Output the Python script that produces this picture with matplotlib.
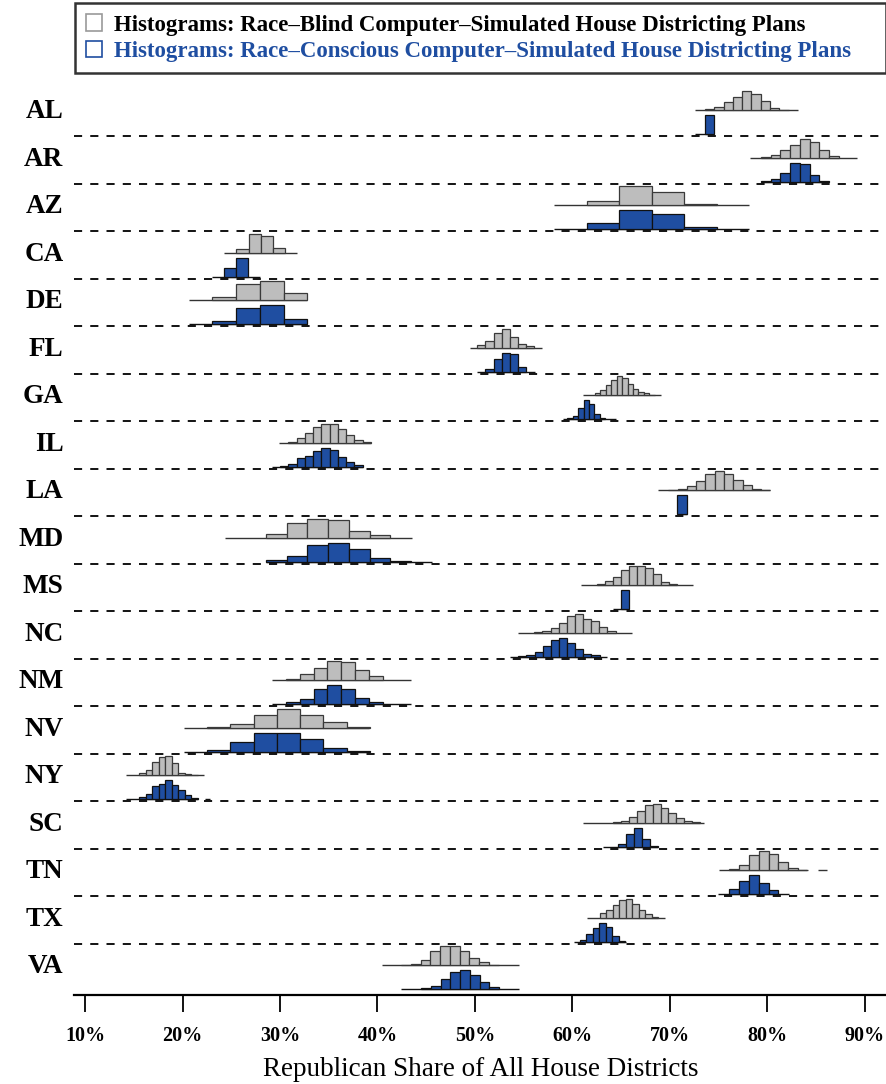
import matplotlib
matplotlib.use("Agg")
import matplotlib.pyplot as plt
from matplotlib.patches import Patch

# state rows, top to bottom
states = ["AL", "AR", "AZ", "CA", "DE", "FL", "GA", "IL", "LA", "MD",
          "MS", "NC", "NM", "NV", "NY", "SC", "TN", "TX", "VA"]
# number of house districts -> bin width = 100 / n
n_districts = [105, 100, 30, 80, 41, 120, 180, 118, 105, 47,
               122, 120, 70, 42, 150, 124, 99, 150, 100]

# race-blind histograms (left edge of first bin, relative bar heights, line span)
gray_left = [73.59, 79.33, 61.46, 25.52, 23.06, 50.24, 62.31, 30.85, 69.83, 28.56,
             62.54, 56.08, 30.58, 22.54, 15.57, 64.20, 76.08, 62.82, 42.43]
gray_heights = [
    [0.05, 0.18, 0.42, 0.73, 1.0, 0.84, 0.47, 0.15, 0.04],
    [0.03, 0.16, 0.40, 0.66, 1.0, 0.81, 0.41, 0.10],
    [0.24, 1.0, 0.69, 0.09],
    [0.18, 1.0, 0.91, 0.24],
    [0.16, 0.86, 1.0, 0.37],
    [0.14, 0.38, 0.79, 1.0, 0.58, 0.19, 0.09],
    [0.10, 0.30, 0.54, 0.80, 1.0, 0.90, 0.59, 0.36, 0.20, 0.10, 0.03],
    [0.05, 0.26, 0.53, 0.82, 1.0, 1.0, 0.75, 0.42, 0.15, 0.04],
    [0.04, 0.09, 0.22, 0.48, 0.84, 1.0, 0.87, 0.53, 0.27, 0.09, 0.03],
    [0.22, 0.78, 1.0, 0.95, 0.38, 0.16],
    [0.07, 0.23, 0.43, 0.79, 1.0, 1.0, 0.89, 0.61, 0.20, 0.09],
    [0.05, 0.12, 0.28, 0.52, 0.86, 1.0, 0.75, 0.61, 0.30, 0.09],
    [0.09, 0.35, 0.66, 1.0, 0.95, 0.57, 0.21],
    [0.03, 0.22, 0.66, 1.0, 0.69, 0.29, 0.02],
    [0.11, 0.30, 0.68, 0.96, 1.0, 0.64, 0.14, 0.05, 0.02],
    [0.04, 0.12, 0.30, 0.60, 0.92, 1.0, 0.80, 0.50, 0.25, 0.10, 0.04],
    [0.09, 0.30, 0.79, 1.0, 0.86, 0.44, 0.14, 0.04],
    [0.23, 0.40, 0.70, 0.96, 1.0, 0.74, 0.39, 0.19, 0.04],
    [0.03, 0.09, 0.26, 0.74, 1.0, 1.0, 0.77, 0.39, 0.18, 0.04],
]
gray_span = [
    [(72.56, 83.13)], [(78.2, 89.2)], [(58.1, 78.1)], [(24.3, 31.7)], [(20.67, 32.8)],
    [(49.49, 56.84)], [(61.1, 69.04)], [(29.93, 39.3)], [(68.8, 80.3)], [(24.36, 43.5)],
    [(60.84, 72.33)], [(54.44, 66.07)], [(29.14, 43.4)], [(20.18, 39.15)], [(14.2, 22.2)],
    [(61.1, 73.5)], [(75.05, 84.05), (85.2, 86.1)], [(61.45, 69.5)], [(40.46, 54.5)],
]

# race-conscious histograms
blue_left = [73.59, 79.33, 61.46, 24.23, 23.06, 51.07, 59.47, 30.00, 70.75, 28.56,
             64.94, 54.44, 30.58, 22.54, 15.57, 64.70, 76.08, 60.77, 44.47]
blue_heights = [
    [1.0],
    [0.03, 0.17, 0.48, 1.0, 0.95, 0.34, 0.04],
    [0.31, 1.0, 0.79, 0.12],
    [0.46, 1.0],
    [0.18, 0.84, 1.0, 0.26],
    [0.13, 0.67, 1.0, 0.95, 0.24],
    [0.05, 0.20, 0.59, 1.0, 0.80, 0.29, 0.09],
    [0.07, 0.14, 0.44, 0.59, 0.81, 1.0, 0.86, 0.54, 0.25, 0.11],
    [1.0],
    [0.11, 0.30, 0.86, 1.0, 0.65, 0.21, 0.05],
    [1.0],
    [0.05, 0.12, 0.24, 0.59, 0.87, 1.0, 0.74, 0.40, 0.14, 0.07],
    [0.11, 0.26, 0.83, 1.0, 0.83, 0.32, 0.14],
    [0.12, 0.51, 1.0, 1.0, 0.68, 0.21, 0.04],
    [0.14, 0.30, 0.68, 0.79, 1.0, 0.75, 0.49, 0.21, 0.05],
    [0.14, 0.66, 1.0, 0.43, 0.04],
    [0.27, 0.71, 1.0, 0.61, 0.23],
    [0.09, 0.40, 0.73, 1.0, 0.77, 0.31, 0.05],
    [0.05, 0.16, 0.52, 0.93, 1.0, 0.77, 0.39, 0.12],
]
blue_span = [
    [(72.56, 74.56)], [(79.33, 86.3)], [(58.1, 78.1)], [(23.06, 27.98)], [(20.67, 32.8)],
    [(50.17, 56.15)], [(59.0, 64.5)], [(29.15, 38.55)], [(70.75, 71.7)], [(28.56, 45.55)],
    [(64.12, 65.82)], [(53.59, 63.5)], [(29.14, 43.4)], [(20.18, 39.15)], [(14.2, 21.6), (22.3, 22.8)],
    [(63.13, 68.77)], [(74.95, 82.2)], [(60.15, 65.5)], [(42.43, 54.5)],
]

xticks = [10, 20, 30, 40, 50, 60, 70, 80, 90]
legend_labels = ["Histograms: Race\u2013Blind Computer\u2013Simulated House Districting Plans",
                 "Histograms: Race\u2013Conscious Computer\u2013Simulated House Districting Plans"]

GRAY = "#bdbdbd"
BLUE = "#1f4ea1"
SERIF = ["Liberation Serif", "DejaVu Serif"]

fig = plt.figure(figsize=(8.87, 10.84), dpi=100)
ax = fig.add_axes([74 / 887, 89 / 1084, 813 / 887, 906 / 1084])

n = len(states)
max_h = 0.40
for i, st in enumerate(states):
    row = n - 1 - i
    w = 100.0 / n_districts[i]
    g_base = row + 0.55
    b_base = row + 0.045

    for a, b in gray_span[i]:
        ax.hlines(g_base, a, b, color="#333333", lw=1.0, zorder=2)
    gx = [gray_left[i] + k * w for k in range(len(gray_heights[i]))]
    ax.bar(gx, [h * max_h for h in gray_heights[i]], width=w, bottom=g_base,
           align="edge", color=GRAY, edgecolor="#3a3a3a", linewidth=0.9, zorder=3)

    for a, b in blue_span[i]:
        ax.hlines(b_base, a, b, color="#111111", lw=1.0, zorder=2)
    bx = [blue_left[i] + k * w for k in range(len(blue_heights[i]))]
    ax.bar(bx, [h * max_h for h in blue_heights[i]], width=w, bottom=b_base,
           align="edge", color=BLUE, edgecolor="#111111", linewidth=0.9, zorder=3)

    ax.text(-0.013, row + 0.52, st, transform=ax.get_yaxis_transform(),
            ha="right", va="center", fontsize=19.5, fontweight="bold", family=SERIF)

# dashed separators between rows
for k in range(1, n):
    ax.axhline(k, color="black", lw=1.3, ls=(0, (4.5, 4.5)), zorder=1)

ax.set_xlim(8.87, 92.26)
ax.set_ylim(-0.075, n)
for s in ["top", "left", "right"]:
    ax.spines[s].set_visible(False)
ax.spines["bottom"].set_linewidth(1.6)
ax.set_yticks([])
ax.set_xticks(xticks)
ax.set_xticklabels([f"{t}%" for t in xticks], family=SERIF, fontsize=14.5, fontweight="bold")
ax.tick_params(axis="x", length=12, width=1.3, pad=10)
ax.set_xlabel("Republican Share of All House Districts", family=SERIF, fontsize=19.5, labelpad=8)

handles = [Patch(facecolor="white", edgecolor="#9a9a9a", linewidth=1.2),
           Patch(facecolor="white", edgecolor=BLUE, linewidth=1.2)]
leg = fig.legend(handles, legend_labels, loc="upper left",
                 bbox_to_anchor=(75 / 887, 1 - 70 / 1084, 811 / 887, 67 / 1084),
                 mode="expand", borderaxespad=0, frameon=True, fancybox=False,
                 handlelength=0.7, handleheight=0.7, handletextpad=0.5,
                 labelspacing=0.22, borderpad=0.5,
                 prop={"family": SERIF, "size": 16.5, "weight": "bold"},
                 labelcolor=["black", BLUE])
leg.get_frame().set_edgecolor("black")
leg.get_frame().set_linewidth(1.8)

fig.savefig("out.png", dpi=100)
